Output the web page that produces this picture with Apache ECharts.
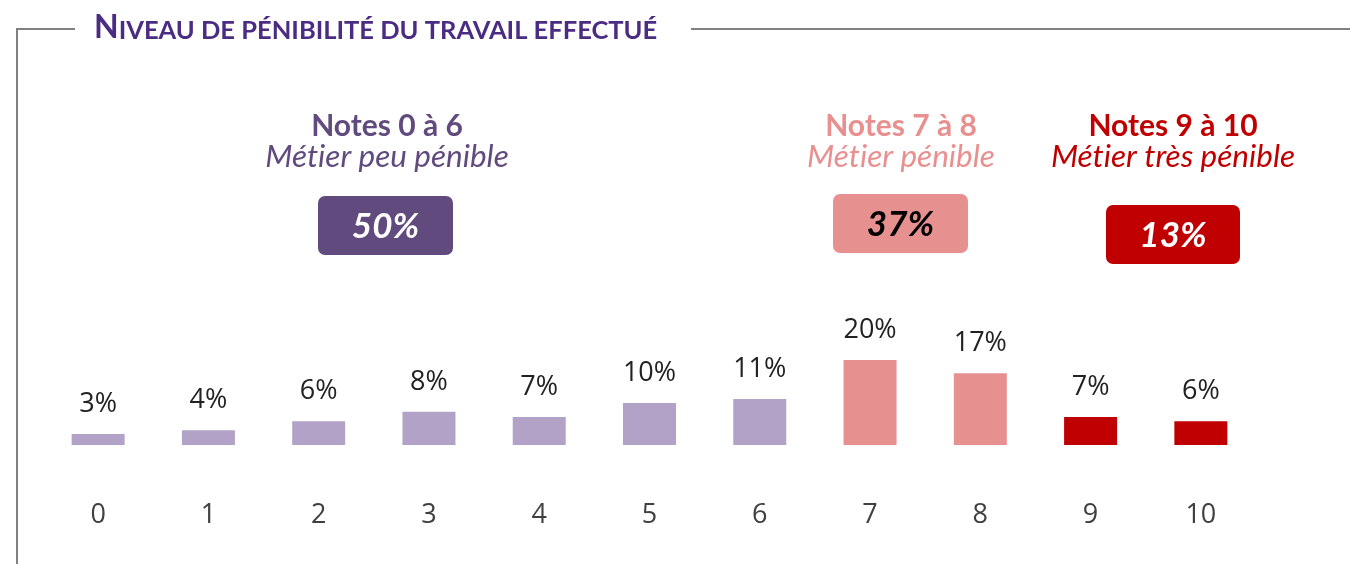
<!DOCTYPE html>
<html>
<head>
<meta charset="utf-8">
<script src="https://cdn.jsdelivr.net/npm/echarts@6/dist/echarts.min.js"></script>
<style>
    html, body { margin: 0; padding: 0; background: #fff; }
    #chartBox { width: 1350px; height: 564px; }
</style>
</head>
<body>
<div id="chartBox"></div>
<script>
// notes de pénibilité (axe x) et part des répondants (%)
const categories = ['0', '1', '2', '3', '4', '5', '6', '7', '8', '9', '10'];
const shares = [2.6, 3.5, 5.6, 7.8, 6.6, 9.9, 10.8, 20, 16.9, 6.6, 5.6];
// groupe de chaque note : 0 = peu pénible, 1 = pénible, 2 = très pénible
const groupOf = [0, 0, 0, 0, 0, 0, 0, 1, 1, 2, 2];

const groupNotes = ['Notes 0 à 6', 'Notes 7 à 8', 'Notes 9 à 10'];
const groupLabels = ['Métier peu pénible', 'Métier pénible', 'Métier très pénible'];
const groupTotals = ['50%', '37%', '13%'];

const barColors = ['#b3a2c7', '#e69190', '#c00000'];
const headColors = ['#614a7d', '#e8908f', '#c00000'];
const boxColors = ['#614a7d', '#e69190', '#c00000'];
const boxTextColors = ['#ffffff', '#000000', '#ffffff'];

const headX = [387, 901, 1173];
const boxes = [[318, 196, 135, 59], [833, 194, 135, 59], [1106, 205, 134, 59]];

// pas de ligature "ti" (Lato), comme dans l'original
function noLig(s) {
    return s.replace(/ti/g, 't\u200Ci');
}

let myChart = echarts.init(document.getElementById('chartBox'));

let graphics = [
    // cadre
    { type: 'polyline', shape: { points: [[17, 564], [17, 29], [75, 29]] },
      style: { stroke: '#808080', lineWidth: 2, fill: null } },
    { type: 'line', shape: { x1: 691, y1: 29, x2: 1350, y2: 29 },
      style: { stroke: '#808080', lineWidth: 2 } }
];
for (let i = 0; i < 3; i++) {
    graphics.push({
        type: 'text', x: headX[i], y: 126,
        style: { text: groupNotes[i], fill: headColors[i], fontFamily: 'Lato', fontWeight: 'bold',
                 fontSize: 30, textAlign: 'center', textVerticalAlign: 'middle' }
    });
    graphics.push({
        type: 'text', x: headX[i], y: 157,
        style: { text: noLig(groupLabels[i]), fill: headColors[i], fontFamily: 'Lato', fontStyle: 'italic',
                 fontSize: 31.5, textAlign: 'center', textVerticalAlign: 'middle' }
    });
    let b = boxes[i];
    graphics.push({
        type: 'rect', shape: { x: b[0], y: b[1], width: b[2], height: b[3], r: 7 },
        style: { fill: boxColors[i] }
    });
    graphics.push({
        type: 'text', x: b[0] + b[2] / 2, y: b[1] + b[3] / 2 + 1,
        style: { text: groupTotals[i], fill: boxTextColors[i], fontFamily: 'Lato', fontWeight: 'bold',
                 fontStyle: 'italic', fontSize: 35, textAlign: 'center', textVerticalAlign: 'middle' }
    });
}

myChart.setOption({
    backgroundColor: '#fff',
    animation: false,
    title: {
        text: '{a|N}{b|IVEAU DE PÉNIBILITÉ DU TRAVAIL EFFECTUÉ}',
        left: 89,
        top: 5,
        textStyle: {
            rich: {
                a: { fontFamily: 'Lato', fontWeight: 'bold', fontSize: 32, color: '#4b2c83', verticalAlign: 'bottom', lineHeight: 34 },
                b: { fontFamily: 'Lato', fontWeight: 'bold', fontSize: 25.5, color: '#4b2c83', verticalAlign: 'bottom', lineHeight: 34 }
            }
        }
    },
    grid: {
        left: 43,
        right: 94,
        top: 360,
        bottom: 119
    },
    xAxis: {
        type: 'category',
        data: categories,
        axisLine: { show: false },
        axisTick: { show: false },
        axisLabel: {
            margin: 57,
            fontFamily: 'Open Sans',
            fontSize: 27,
            color: '#404040'
        }
    },
    yAxis: {
        type: 'value',
        min: 0,
        max: 20,
        show: false
    },
    graphic: graphics,
    series: [{
        type: 'bar',
        barWidth: 53,
        data: shares.map(function (v, i) {
            return { value: v, itemStyle: { color: barColors[groupOf[i]] } };
        }),
        label: {
            show: true,
            position: 'top',
            distance: 16,
            fontFamily: 'Open Sans',
            fontSize: 27,
            color: '#222',
            formatter: function (p) {
                return Math.round(p.value) + '%';
            }
        }
    }]
});
</script>
</body>
</html>
